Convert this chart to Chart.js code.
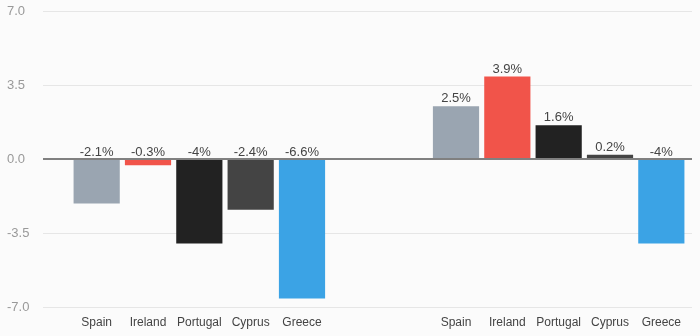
<!DOCTYPE html>
<html>
<head>
<meta charset="utf-8">
<script src="https://cdn.jsdelivr.net/npm/chart.js@4/dist/chart.umd.min.js"></script>
<style>
  html, body { margin: 0; padding: 0; background: #fbfbfb; }
  #wrap { width: 700px; height: 336px; }
</style>
</head>
<body>
<div id="wrap"><canvas id="chart"></canvas></div>
<script>
// countries shown in both groups
const countries = ["Spain", "Ireland", "Portugal", "Cyprus", "Greece"];
// left group and right group values (%)
const leftValues = [-2.1, -0.3, -4, -2.4, -6.6];
const rightValues = [2.5, 3.9, 1.6, 0.2, -4];
const countryColors = ["#9aa5b1", "#f1544a", "#222222", "#444444", "#3ba3e5"];
const yTicks = [-7, -3.5, 0, 3.5, 7];

// two empty slots make the gap between the groups
const labels = [...countries, "", "", ...countries];
const values = [...leftValues, null, null, ...rightValues];
const colors = [...countryColors, "transparent", "transparent", ...countryColors];

const valueLabels = {
    id: "valueLabels",
    afterDatasetsDraw(chart) {
        const ctx = chart.ctx;
        const meta = chart.getDatasetMeta(0);
        ctx.save();
        ctx.font = "13px 'Liberation Sans', Arial, sans-serif";
        ctx.fillStyle = "#444";
        ctx.textAlign = "center";
        ctx.textBaseline = "alphabetic";
        meta.data.forEach((bar, i) => {
            const v = values[i];
            if (v === null) return;
            const top = v >= 0 ? bar.y : bar.base;
            ctx.fillText(v + "%", bar.x, top - 4);
        });
        ctx.restore();
    }
};

const bgFill = {
    id: "bgFill",
    beforeDraw(chart) {
        const ctx = chart.ctx;
        ctx.save();
        ctx.fillStyle = "#fbfbfb";
        ctx.fillRect(0, 0, chart.width, chart.height);
        ctx.restore();
    }
};

const gridColor = c => (c.tick && c.tick.value === 0) ? "#808080" : "#e6e6e6";
const gridWidth = c => (c.tick && c.tick.value === 0) ? 2 : 1;

new Chart(document.getElementById("chart"), {
    type: "bar",
    data: {
        labels: labels,
        datasets: [{
            data: values,
            backgroundColor: colors,
            categoryPercentage: 1,
            barPercentage: 0.9
        }]
    },
    options: {
        responsive: true,
        maintainAspectRatio: false,
        animation: false,
        layout: { padding: { left: 7, right: 8, top: 11, bottom: 0 } },
        plugins: { legend: { display: false }, tooltip: { enabled: false } },
        scales: {
            x: {
                afterFit: s => { s.height = 29; },
                grid: { display: false, drawTicks: false },
                border: { display: false },
                ticks: {
                    padding: 8,
                    color: "#444",
                    font: { family: "'Liberation Sans', Arial, sans-serif", size: 12 },
                    autoSkip: false,
                    maxRotation: 0
                }
            },
            y: {
                min: -7,
                max: 7,
                afterBuildTicks: s => { s.ticks = yTicks.map(v => ({ value: v })); },
                afterFit: s => { s.width = 64; },
                grid: { color: gridColor, lineWidth: gridWidth, tickLength: 28 },
                border: { display: false },
                ticks: {
                    crossAlign: "far",
                    color: "#999",
                    font: { family: "'Liberation Sans', Arial, sans-serif", size: 13 },
                    callback: v => v.toFixed(1)
                }
            },
            y2: {
                position: "right",
                min: -7,
                max: 7,
                afterBuildTicks: s => { s.ticks = yTicks.map(v => ({ value: v })); },
                grid: { color: gridColor, lineWidth: gridWidth, tickLength: 5, drawOnChartArea: false },
                border: { display: false },
                ticks: { display: false }
            }
        }
    },
    plugins: [bgFill, valueLabels]
});
</script>
</body>
</html>
